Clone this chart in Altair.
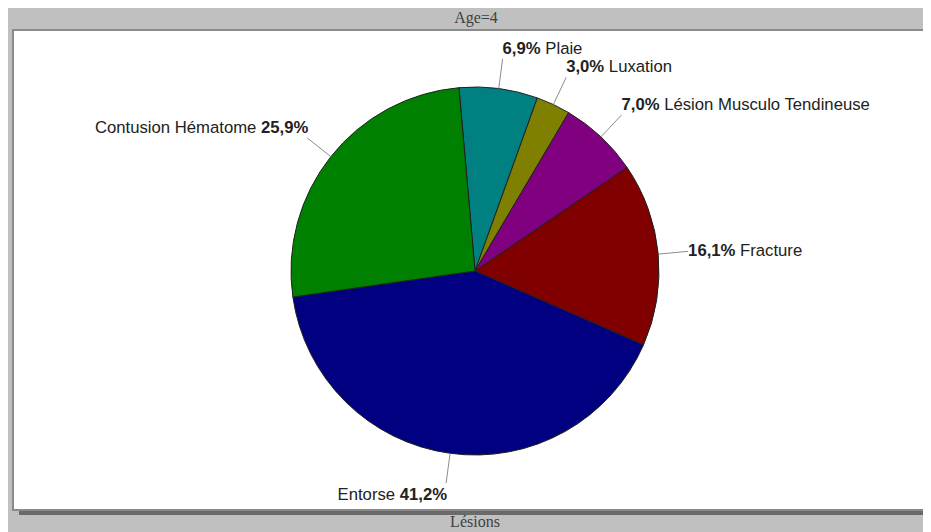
import math
import altair as alt
import pandas as pd

# ---- data ----
labels = ["Plaie", "Luxation", "Lésion Musculo Tendineuse", "Fracture", "Entorse", "Contusion Hématome"]
values = [6.9, 3.0, 7.0, 16.1, 41.2, 25.9]
colors = ["#008080", "#808000", "#800080", "#800000", "#000080", "#008000"]
title_text = "Age=4"
axis_text = "Lésions"

# ---- layout constants ----
W, H = 915, 524
CX, CY, R = 467, 263, 184
R_LINE = 214
START = math.radians(-5)
FONT = "Liberation Sans"
FS = 16.7

total = sum(values)
rows = []
cum = 0.0
for i, (lab, v) in enumerate(zip(labels, values)):
    mid = START + (cum + v / 2) / total * 2 * math.pi
    cum += v
    s, c = math.sin(mid), math.cos(mid)
    pct = f"{v:.1f}".replace(".", ",") + "%"
    digits = sum(ch.isdigit() for ch in pct)
    pw = (digits * 0.556 + 0.278 + 0.889 + 0.278) * FS
    dy = -10 if c > 0.3 else (12 if c < -0.3 else 0)
    xe = CX + R_LINE * s
    ye = CY - R_LINE * c
    rows.append(dict(
        idx=i, label=lab, value=v, pct=pct,
        x0=CX + R * s, y0=CY - R * c, x1=xe, y1=ye,
        ty=ye + dy, side="right" if s > 0 else "left",
        xp=xe if s > 0 else xe + 1,
        xn=xe + pw if s > 0 else xe + 1 - pw,
    ))
df = pd.DataFrame(rows)

xs = alt.Scale(domain=[0, W], range=[0, W], nice=False, zero=False)
ys = alt.Scale(domain=[0, H], range=[0, H], nice=False, zero=False)

base = alt.Chart(df)

shadow = alt.Chart(df).mark_rect(fill="#6a6a6a").encode(
    x=alt.value(11), x2=alt.value(W), y=alt.value(501), y2=alt.value(507))
panel = alt.Chart(df).mark_rect(fill="white", stroke="#8a8a8a", strokeWidth=2).encode(
    x=alt.value(5), x2=alt.value(W + 10), y=alt.value(22), y2=alt.value(502))

pie = base.mark_arc(radius=R, stroke="#202020", strokeWidth=1).encode(
    theta=alt.Theta("value:Q", stack=True,
                    scale=alt.Scale(range=[START, START + 2 * math.pi])),
    order=alt.Order("idx:Q"),
    color=alt.Color("label:N", scale=alt.Scale(domain=labels, range=colors), legend=None),
    x=alt.value(CX), y=alt.value(CY),
)

lines = base.mark_rule(color="#8c8c8c", strokeWidth=1).encode(
    x=alt.X("x0:Q", scale=xs, axis=None), y=alt.Y("y0:Q", scale=ys, axis=None),
    x2="x1:Q", y2="y1:Q")

right = base.transform_filter(alt.datum.side == "right")
left = base.transform_filter(alt.datum.side == "left")

txt = dict(font=FONT, fontSize=FS, color="#222222", baseline="middle")
r_pct = right.mark_text(align="left", fontWeight="bold", **txt).encode(
    x=alt.X("xp:Q", scale=xs, axis=None), y=alt.Y("ty:Q", scale=ys, axis=None), text="pct:N")
r_name = right.mark_text(align="left", **txt).encode(
    x=alt.X("xn:Q", scale=xs, axis=None), y=alt.Y("ty:Q", scale=ys, axis=None), text="label:N")
l_pct = left.mark_text(align="right", fontWeight="bold", **txt).encode(
    x=alt.X("xp:Q", scale=xs, axis=None), y=alt.Y("ty:Q", scale=ys, axis=None), text="pct:N")
l_name = left.mark_text(align="right", **txt).encode(
    x=alt.X("xn:Q", scale=xs, axis=None), y=alt.Y("ty:Q", scale=ys, axis=None), text="label:N")

title = alt.Chart(pd.DataFrame({"t": [title_text]})).mark_text(
    font="Liberation Serif", fontSize=16, color="#404040", baseline="middle", align="center"
).encode(x=alt.value(468), y=alt.value(10), text="t:N")
xlab = alt.Chart(pd.DataFrame({"t": [axis_text]})).mark_text(
    font="Liberation Serif", fontSize=16, color="#404040", baseline="middle", align="center"
).encode(x=alt.value(467), y=alt.value(514), text="t:N")

chart = alt.layer(shadow, panel, pie, lines, r_pct, r_name, l_pct, l_name, title, xlab).properties(
    width=W, height=H, autosize=alt.AutoSizeParams(type="none"), padding=0,
    background="#c0c0c0",
).configure_view(stroke=None)

chart.save("out.html", embed_options={"renderer": "svg", "actions": False})
